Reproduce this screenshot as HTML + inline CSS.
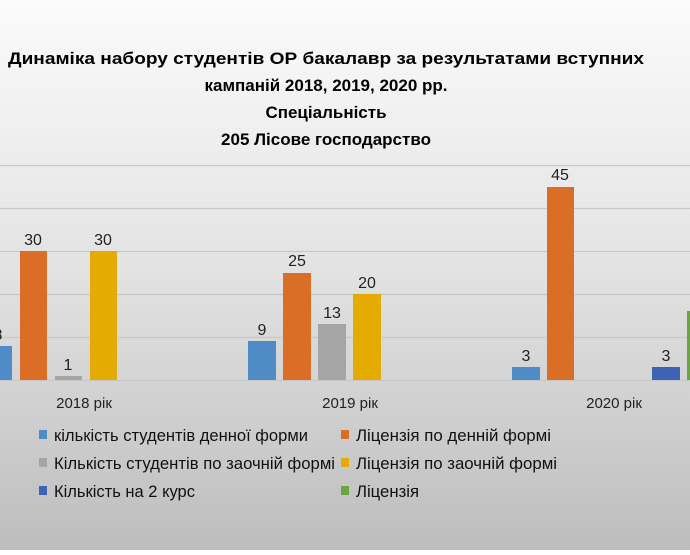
<!DOCTYPE html>
<html><head><meta charset="utf-8"><style>
html,body{margin:0;padding:0;}
body{width:690px;height:550px;overflow:hidden;}
svg text{font-family:"Liberation Sans",sans-serif;}
</style></head><body>
<svg width="690" height="550" xmlns="http://www.w3.org/2000/svg">
<defs><linearGradient id="bg" x1="0" y1="0" x2="0" y2="1">
<stop offset="0" stop-color="#fbfbfb"/><stop offset="0.5" stop-color="#e2e2e2"/><stop offset="1" stop-color="#bdbdbd"/></linearGradient></defs>
<rect width="690" height="550" fill="url(#bg)"/>
<g font-weight="bold" font-size="17" fill="#000" text-anchor="middle">
<text x="326" y="64" textLength="636" lengthAdjust="spacingAndGlyphs">Динаміка набору студентів ОР бакалавр за результатами вступних</text>
<text x="326" y="91">кампаній 2018, 2019, 2020 рр.</text>
<text x="326" y="118">Спеціальність</text>
<text x="326" y="145">205 Лісове господарство</text>
</g>
<g stroke="#c8c8c8" stroke-width="1.2">
<line x1="0" x2="690" y1="165.5" y2="165.5"/><line x1="0" x2="690" y1="208.5" y2="208.5"/>
<line x1="0" x2="690" y1="251.5" y2="251.5"/><line x1="0" x2="690" y1="294.5" y2="294.5"/>
<line x1="0" x2="690" y1="337.5" y2="337.5"/><line x1="0" x2="690" y1="380.5" y2="380.5"/>
</g>
<g>
<rect x="-15" y="346" width="27" height="34" fill="#4f8cc6"/>
<rect x="20" y="251" width="27" height="129" fill="#db6e27"/>
<rect x="55" y="376" width="27" height="4" fill="#a5a5a5"/>
<rect x="90" y="251" width="27" height="129" fill="#e6ab00"/>
<rect x="248" y="341" width="28" height="39" fill="#4f8cc6"/>
<rect x="283" y="273" width="28" height="107" fill="#db6e27"/>
<rect x="318" y="324" width="28" height="56" fill="#a5a5a5"/>
<rect x="353" y="294" width="28" height="86" fill="#e6ab00"/>
<rect x="512" y="367" width="28" height="13" fill="#4f8cc6"/>
<rect x="547" y="187" width="27" height="193" fill="#db6e27"/>
<rect x="652" y="367" width="28" height="13" fill="#3f63b4"/>
<rect x="687" y="311" width="28" height="69" fill="#6aa53e"/>
</g>
<g font-size="16" fill="#222" text-anchor="middle">
<text x="-2" y="340">8</text>
<text x="33" y="245">30</text><text x="68" y="370">1</text><text x="103" y="245">30</text>
<text x="262" y="335">9</text><text x="297" y="266">25</text><text x="332" y="318">13</text><text x="367" y="288">20</text>
<text x="526" y="361">3</text><text x="560" y="180">45</text><text x="666" y="361">3</text>
</g>
<g font-size="15" fill="#222" text-anchor="middle">
<text x="84" y="408">2018 рік</text><text x="350" y="408">2019 рік</text><text x="614" y="408">2020 рік</text>
</g>
<g font-size="17" fill="#111">
<rect x="39" y="430" width="8" height="9" fill="#4f8cc6"/><text x="54" y="441" textLength="254" lengthAdjust="spacingAndGlyphs">кількість студентів денної форми</text>
<rect x="341" y="430" width="8" height="9" fill="#db6e27"/><text x="356" y="441" textLength="195" lengthAdjust="spacingAndGlyphs">Ліцензія по денній формі</text>
<rect x="39" y="458" width="8" height="9" fill="#a5a5a5"/><text x="54" y="469" textLength="281" lengthAdjust="spacingAndGlyphs">Кількість студентів по заочній формі</text>
<rect x="341" y="458" width="8" height="9" fill="#e6ab00"/><text x="356" y="469" textLength="201" lengthAdjust="spacingAndGlyphs">Ліцензія по заочній формі</text>
<rect x="39" y="486" width="8" height="9" fill="#3f63b4"/><text x="54" y="497" textLength="141" lengthAdjust="spacingAndGlyphs">Кількість на 2 курс</text>
<rect x="341" y="486" width="8" height="9" fill="#6aa53e"/><text x="356" y="497" textLength="63" lengthAdjust="spacingAndGlyphs">Ліцензія</text>
</g>
</svg>
</body></html>
